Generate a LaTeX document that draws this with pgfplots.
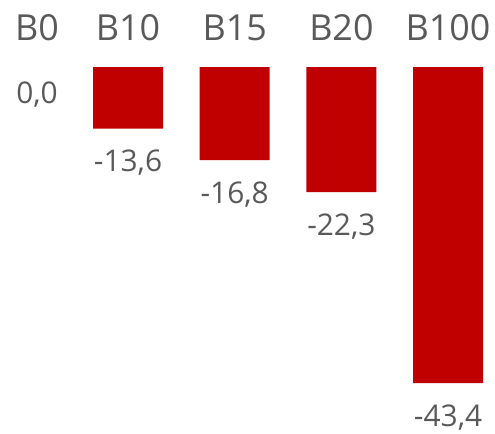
\documentclass[border=0pt]{standalone}
\usepackage{pgfplots}
\pgfplotsset{compat=1.18}
\usepackage{fontspec}
\setmainfont{Open Sans}
\definecolor{barred}{HTML}{C00000}
\definecolor{txtgray}{HTML}{595959}
% NOTE: the reference chart is not drawn to scale: its bar lengths are not
% proportional to the printed values (-13,6 / -16,8 / -22,3 / -43,4).
% Column y holds bar lengths
% (scaled so that B100 = -43.4); column lab holds the printed values,
% which are shown as the labels.
\begin{document}
\begin{tikzpicture}
\begin{axis}[
  scale only axis, width=495bp, height=430bp,
  xmin=-0.2, xmax=4.44, ymin=-49.86, ymax=9.2,
  axis line style={draw=none},
  major tick length=0pt,
  ytick=\empty,
  xtick={0.147,1,2,3,4},
  xticklabels={B0,B10,B15,B20,B100},
  xticklabel pos=upper,
  xticklabel style={anchor=base, yshift=-40.7bp, font=\fontsize{36}{40}\selectfont, text=txtgray},
  clip=false,
]
\addplot[ybar, bar width=70bp, bar shift=0pt, fill=barred, draw=none,
  nodes near coords, point meta=explicit symbolic,
  every node near coord/.append style={anchor=base, yshift=-43bp, font=\fontsize{30}{34}\selectfont, text=txtgray}]
  table[meta=lab] {
x y lab
1 -8.47 -13,6
2 -12.77 -16,8
3 -17.17 -22,3
4 -43.4 -43,4
};
\addplot[ybar, bar width=70bp, bar shift=0pt, fill=none, draw=none,
  nodes near coords, point meta=explicit symbolic,
  every node near coord/.append style={anchor=base, yshift=-36.3bp, font=\fontsize{30}{34}\selectfont, text=txtgray}]
  table[meta=lab] {
x y lab
0.147 0 0,0
};
\end{axis}
\end{tikzpicture}
\end{document}
